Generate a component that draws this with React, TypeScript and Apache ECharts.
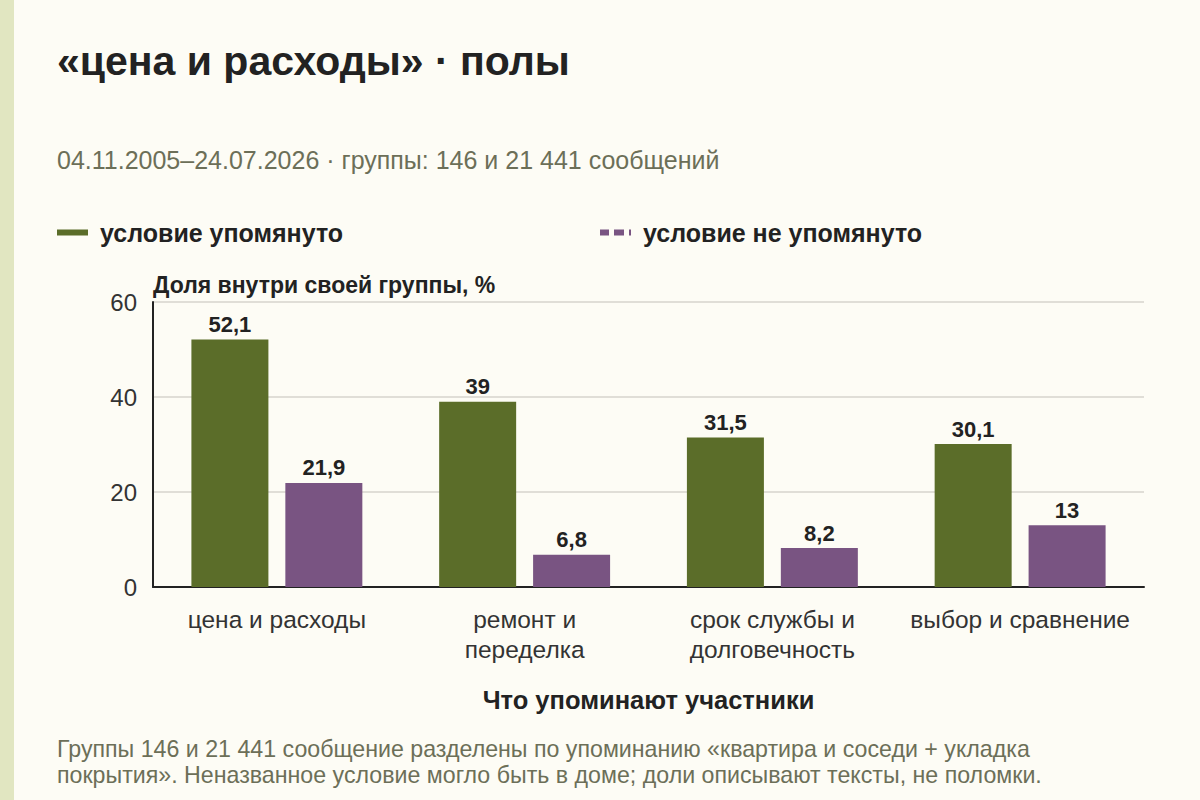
import { useEffect, useRef } from "react";
import * as echarts from "echarts";

const categories = [
  "цена и расходы",
  "ремонт и\nпеределка",
  "срок службы и\nдолговечность",
  "выбор и сравнение",
];
const mentioned = [52.1, 39, 31.5, 30.1];
const notMentioned = [21.9, 6.8, 8.2, 13];
const seriesNames = ["условие упомянуто", "условие не упомянуто"];

const FONT = "'Liberation Sans', Arial, sans-serif";
const GREEN = "#5b6d29";
const PURPLE = "#795482";
const MUTED = "#6c6f58";

const fmt = (v: number) => String(v).replace(".", ",");

export default function App() {
  const chartRef = useRef<HTMLDivElement>(null);

  useEffect(() => {
    document.body.style.margin = "0";
    if (!chartRef.current) return;
    const chart = echarts.init(chartRef.current, null, { renderer: "svg" });

    const label = {
      show: true,
      position: "top" as const,
      distance: 4,
      fontFamily: FONT,
      fontSize: 22,
      fontWeight: "bold" as const,
      color: "#222",
      formatter: (p: any) => fmt(p.value),
    };

    const legendText = {
      fontSize: 25,
      fontWeight: "bold" as const,
      color: "#222",
      fontFamily: FONT,
      padding: [0, 0, 0, 7],
    };

    chart.setOption({
      animation: false,
      backgroundColor: "#fdfcf5",
      textStyle: { fontFamily: FONT },
      title: [
        {
          text: "«цена и расходы» · полы",
          left: 52,
          top: 35,
          textStyle: { fontSize: 41, fontWeight: "bold", color: "#222", fontFamily: FONT },
        },
        {
          text: "04.11.2005–24.07.2026 · группы: 146 и 21 441 сообщений",
          left: 52,
          top: 142,
          textStyle: { fontSize: 25, fontWeight: "normal", color: MUTED, fontFamily: FONT },
        },
        {
          text:
            "Группы 146 и 21 441 сообщение разделены по упоминанию «квартира и соседи + укладка\nпокрытия». Неназванное условие могло быть в доме; доли описывают тексты, не поломки.",
          left: 52,
          top: 731,
          textStyle: {
            fontSize: 23.2,
            fontWeight: "normal",
            color: MUTED,
            fontFamily: FONT,
            lineHeight: 26,
          },
        },
      ],
      graphic: [
        {
          type: "rect",
          left: 0,
          top: 0,
          shape: { width: 14, height: 800 },
          style: { fill: "#e1e6c1" },
        },
      ],
      legend: [
        {
          data: [{ name: seriesNames[0], icon: "path://M0,0h31v6h-31z" }],
          left: 52,
          top: 215,
          itemWidth: 31,
          itemHeight: 6,
          textStyle: legendText,
        },
        {
          data: [
            {
              name: seriesNames[1],
              icon: "path://M0,0h9v6h-9zM14,0h10v6h-10zM29,0h2v6h-2z",
            },
          ],
          left: 595,
          top: 215,
          itemWidth: 31,
          itemHeight: 6,
          textStyle: legendText,
        },
      ],
      grid: { left: 153, right: 56, top: 302, bottom: 213 },
      xAxis: {
        type: "category",
        data: categories,
        name: "Что упоминают участники",
        nameLocation: "middle",
        nameGap: 100,
        nameTextStyle: { fontSize: 25.5, fontWeight: "bold", color: "#222", fontFamily: FONT },
        axisLine: { lineStyle: { color: "#222", width: 2 } },
        axisTick: { alignWithLabel: true, length: 5, lineStyle: { color: "#444" } },
        axisLabel: {
          fontSize: 24.5,
          color: "#333",
          lineHeight: 30,
          margin: 17,
          interval: 0,
          fontFamily: FONT,
        },
      },
      yAxis: {
        type: "value",
        min: 0,
        max: 60,
        interval: 20,
        name: "Доля внутри своей группы, %",
        nameLocation: "end",
        nameGap: 6,
        nameTextStyle: {
          fontSize: 23,
          fontWeight: "bold",
          color: "#222",
          align: "left",
          fontFamily: FONT,
        },
        axisLine: { show: true, lineStyle: { color: "#222", width: 2 } },
        axisTick: { show: false },
        axisLabel: { fontSize: 24, color: "#333", margin: 16, fontFamily: FONT },
        splitLine: { lineStyle: { color: "#d6d4cc", width: 1.5 } },
      },
      series: [
        {
          name: seriesNames[0],
          type: "bar",
          data: mentioned,
          barWidth: 77,
          barGap: "22%",
          itemStyle: { color: GREEN },
          label,
        },
        {
          name: seriesNames[1],
          type: "bar",
          data: notMentioned,
          barWidth: 77,
          itemStyle: { color: PURPLE },
          label,
        },
      ],
    });

    return () => chart.dispose();
  }, []);

  return <div ref={chartRef} style={{ width: 1200, height: 800 }} />;
}
